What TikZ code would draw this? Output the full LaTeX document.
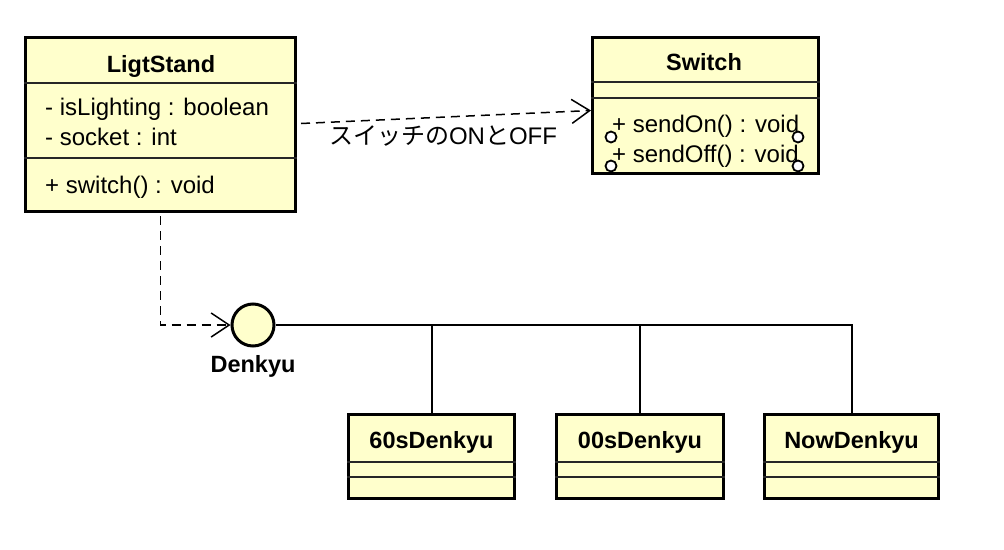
\documentclass[tikz,border=0pt]{standalone}
\usepackage{fontspec}
\setmainfont{Liberation Sans}
\newfontfamily\jpfont{Noto Sans CJK JP}
\usetikzlibrary{arrows.meta,calc}
\definecolor{clsfill}{RGB}{255,255,204}
\begin{document}
\begin{tikzpicture}[x=1pt,y=-1pt,
 cls/.style={draw, line width=3pt, fill=clsfill, rectangle, anchor=north west, inner sep=0pt},
 sep/.style={line width=1.5pt, black!85},
 txt/.style={anchor=base west, inner sep=0pt, font=\fontsize{24}{28}\selectfont},
 ttl/.style={anchor=base, inner sep=0pt, font=\fontsize{23.5}{28}\selectfont\bfseries},
 dep/.style={dash pattern=on 9pt off 6pt, line width=1.5pt, -{Straight Barb[length=18pt,width=24pt,line width=1.5pt]}},
 gen/.style={line width=2pt},
 port/.style={circle, draw, fill=white, line width=1.8pt, minimum size=11pt, inner sep=0pt}]
\fill[white] (0,0) rectangle (1004,549);
\useasboundingbox (0,0) rectangle (1004,549);

% LigtStand
\node[cls, minimum width=270pt, minimum height=174pt] (ls) at (24,36) {};
\draw[sep] (ls.west |- 0,83) -- (ls.east |- 0,83);
\draw[sep] (ls.west |- 0,158) -- (ls.east |- 0,158);
\node[ttl] (lsname) at (161,72) {LigtStand};
\node[txt] (a1) at (45,115) {- isLighting : boolean};
\node[txt] (a2) at (45,145) {- socket : int};
\node[txt] (m1) at (45,193) {+ switch() : void};

% Switch
\node[cls, minimum width=226pt, minimum height=136pt] (sw) at (591,36) {};
\draw[sep] (sw.west |- 0,82) -- (sw.east |- 0,82);
\draw[sep] (sw.west |- 0,98) -- (sw.east |- 0,98);
\node[ttl] (swname) at (704,70) {Switch};
\node[port] (p1) at (611,137) {};
\node[port] (p2) at (611,166) {};
\node[port] (p3) at (798,137) {};
\node[port] (p4) at (798,166) {};
\node[txt] (m2) at (612,132) {+ sendOn() : void};
\node[txt] (m3) at (612,162) {+ sendOff() : void};

% Subclasses
\node[cls, minimum width=166pt, minimum height=84pt] (n1) at (347,413) {};
\node[cls, minimum width=167pt, minimum height=84pt] (n2) at (555,413) {};
\node[cls, minimum width=174pt, minimum height=84pt] (n3) at (763,413) {};
\foreach \n in {n1,n2,n3}{
  \draw[sep] (\n.west |- 0,462) -- (\n.east |- 0,462);
  \draw[sep] (\n.west |- 0,477) -- (\n.east |- 0,477);
}
\node[ttl] (n1name) at (n1.north |- 0,448) {60sDenkyu};
\node[ttl] (n2name) at (n2.north |- 0,448) {00sDenkyu};
\node[ttl] (n3name) at (n3.north |- 0,448) {NowDenkyu};

% Interface
\node[circle, draw, fill=clsfill, line width=3pt, minimum size=42pt, inner sep=0pt] (dk) at (253,325) {};
\node[ttl] (dkname) at (253,372) {Denkyu};

% Connectors
\draw[dep] ($(ls.east)+(4,-1)$) -- ($(sw.west)+(0,5)$);
\node[anchor=base, inner sep=0pt, font=\fontsize{24}{28}\selectfont] (lbl) at (443,144) {{\jpfont スイッチの}ON{\jpfont と}OFF};
\draw[dep] ([yshift=-3pt]ls.south) |- (dk.west);
\draw[gen] (dk.east) -| (n3.north);
\draw[gen] (n1.north) -- (n1.north |- dk.east);
\draw[gen] (n2.north) -- (n2.north |- dk.east);
\end{tikzpicture}
\end{document}
